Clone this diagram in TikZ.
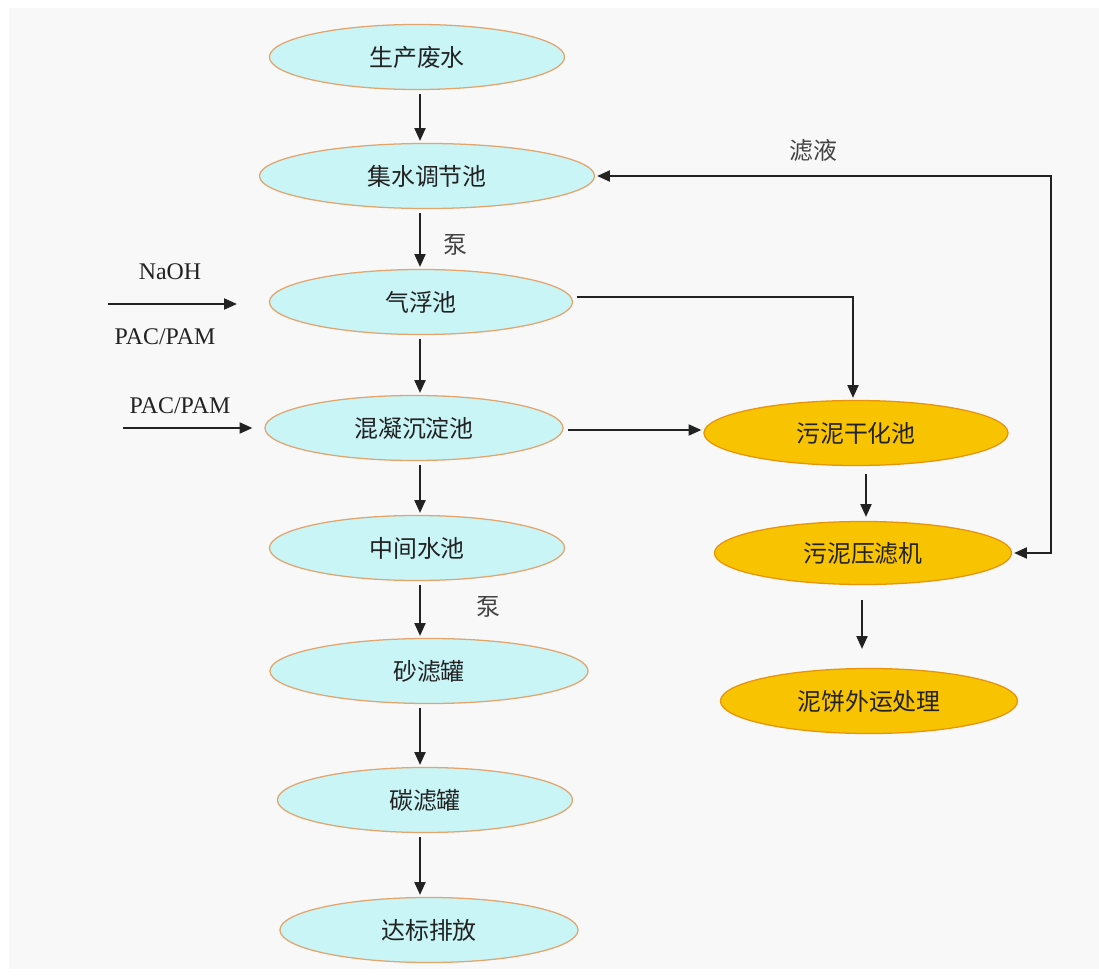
\documentclass[tikz,border=0pt]{standalone}
\usepackage{fontspec}
\setmainfont{Liberation Serif}
\newfontfamily\cjk{Noto Sans CJK SC}
\usetikzlibrary{arrows.meta, positioning, shapes.geometric}
\definecolor{pool}{HTML}{C9F5F7}
\definecolor{poolrim}{HTML}{E3A56E}
\definecolor{sludge}{HTML}{F8C300}
\definecolor{sludgerim}{HTML}{E6940C}
\definecolor{ink}{HTML}{222222}
\definecolor{paper}{HTML}{F8F8F8}

\begin{document}
\begin{tikzpicture}[x=0.025cm,y=-0.025cm,
    p/.style={ellipse,draw=poolrim,fill=pool,line width=0.9pt,minimum height=16.25mm,inner sep=0pt,
      font=\cjk\fontsize{17}{20}\selectfont,text=ink},
    s/.style={p,draw=sludgerim,fill=sludge},
    w/.style={font=\fontsize{17}{20}\selectfont,text=ink},
    c/.style={font=\cjk\fontsize{17}{20}\selectfont,text=ink!85},
    tip/.tip={Triangle[length=3.2mm,width=2.8mm]},
    a/.style={draw=ink,line width=1pt,-tip,shorten <=1mm,shorten >=0.5mm}]
    \fill[white] (0,0) rectangle (1099,978);
    \fill[paper] (9,8) rectangle (1099,969);
    \useasboundingbox (0,0) rectangle (1099,978);
    % main treatment line
    \node[p,minimum width=73.75mm] (waste) at (417,57) {生产废水};
    \node[p,minimum width=83.75mm] (collect) at (427,176) {集水调节池};
    \node[p,minimum width=75.75mm] (float) at (421,302) {气浮池};
    \node[p,minimum width=74.5mm] (settle) at (414,428) {混凝沉淀池};
    \node[p,minimum width=73.75mm] (mid) at (417,548) {中间水池};
    \node[p,minimum width=79.5mm] (sand) at (429,671) {砂滤罐};
    \node[p,minimum width=73.75mm] (carbon) at (425,800) {碳滤罐};
    \node[p,minimum width=74.5mm] (out) at (429,930) {达标排放};
    % sludge line
    \node[s,minimum width=76mm] (dry) at (856,433) {污泥干化池};
    \node[s,minimum width=74.25mm,minimum height=15.75mm] (press) at (863,553) {污泥压滤机};
    \node[s,minimum width=74.25mm] (cake) at (869,701) {泥饼外运处理};
    \coordinate (col) at (420,0);
    \coordinate (ret) at (1051,0);
    \coordinate (naohIn) at (108,304);
    \coordinate (pacIn) at (123,428);
    \foreach \u/\v in {waste/collect,collect/float,float/settle,settle/mid,mid/sand,sand/carbon,carbon/out}
      \draw[a] (\u.south -| col) -- (\v.north -| col);
    \node[c] (pump1) at (455,245) {泵};
    \node[c] (pump2) at (488,607) {泵};
    % dosing
    \node[w] (naoh) at (170,272) {NaOH};
    \node[w] (pac1) at (165,337) {PAC/PAM};
    \node[w] (pac2) at (180,406) {PAC/PAM};
    \draw[a,shorten <=0pt] (naohIn) -- ([xshift=-7.5mm]naohIn -| float.west);
    \draw[a,shorten <=0pt] (pacIn) -- ([xshift=-2.5mm]pacIn -| settle.west);
    % sludge flow
    \draw[a] ([yshift=1.2mm]float.east) -| ([xshift=-0.75mm]dry.north);
    \draw[a] ([yshift=-0.5mm]settle.east) -- ([yshift=-0.5mm]settle.east -| dry.west);
    \draw[a,shorten <=2mm,shorten >=1mm] ([xshift=2.5mm]dry.south) -- ([xshift=2.5mm]dry.south |- press.north);
    \draw[a,shorten <=3.75mm,shorten >=4.75mm] ([xshift=-0.25mm]press.south) -- ([xshift=-0.25mm]press.south |- cake.north);
    \draw[a,tip-tip,shorten <=0.5mm]
      (collect.east) -| (ret |- press.east) -- (press.east);
    \node[c] (filtrate) at (813,150) {滤液};
  \end{tikzpicture}
\end{document}
